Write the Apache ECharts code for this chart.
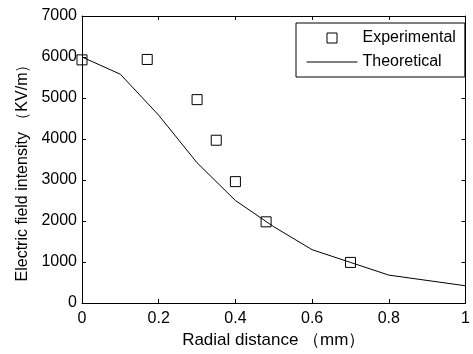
<!DOCTYPE html>
<html>
<head>
<meta charset="utf-8">
<script src="https://cdn.jsdelivr.net/npm/echarts@6/dist/echarts.min.js"></script>
<style>
html,body{margin:0;padding:0;background:#fff;}
#chart{width:473px;height:354px;}
</style>
</head>
<body>
<div id="chart"></div>
<script>
// Data
const expX = [0, 0.17, 0.30, 0.35, 0.40, 0.48, 0.70];
const expY = [5930, 5940, 4960, 3970, 2960, 1980, 990];
const theoX = [0, 0.1, 0.2, 0.3, 0.4, 0.5, 0.6, 0.7, 0.8, 1.0];
const theoY = [6000, 5580, 4580, 3420, 2500, 1860, 1300, 990, 680, 420];
const seriesNames = ['Experimental', 'Theoretical'];
const xTitle = 'Radial distance \uFF08mm\uFF09';
const yTitle = 'Electric field intensity \uFF08KV/m\uFF09';

const FONT = "'Liberation Sans', Arial, sans-serif";
const axisLine = {show: true, onZero: false, lineStyle: {color: '#000', width: 1}};
const tick = {show: true, inside: true, length: 4, lineStyle: {color: '#000', width: 1}};
const plainNum = v => String(v);

// legend icons: square centred in a wide box, and a plain line
const squareIcon = 'path://M0,0L0,0M510,100L510,100M205,0L305,0L305,100L205,100Z';
const lineIcon = 'path://M0,0L0,0M0,100L0,100M0,50L510,50';

const chart = echarts.init(document.getElementById('chart'), null, {renderer: 'canvas'});
chart.setOption({
  animation: false,
  backgroundColor: '#fff',
  textStyle: {fontFamily: FONT},
  grid: {left: 82, right: 1, top: 16, bottom: 46, containLabel: false},
  legend: {
    orient: 'vertical',
    left: 296, top: 23,
    padding: [7, 9, 7, 10],
    itemGap: 8,
    itemWidth: 51, itemHeight: 10,
    borderColor: '#000', borderWidth: 1,
    backgroundColor: '#fff',
    textStyle: {fontFamily: FONT, fontSize: 16, color: '#000', lineHeight: 16},
    data: [
      {name: seriesNames[0], icon: squareIcon, itemStyle: {color: 'rgba(0,0,0,0)', borderColor: '#000', borderWidth: 1}},
      {name: seriesNames[1], icon: lineIcon, itemStyle: {color: 'rgba(0,0,0,0)', borderColor: '#000', borderWidth: 1}}
    ]
  },
  xAxis: [{
    type: 'value', min: 0, max: 1, interval: 0.2, position: 'bottom',
    axisLine: axisLine, axisTick: tick, splitLine: {show: false},
    axisLabel: {color: '#000', fontSize: 16, fontFamily: FONT, margin: 8, formatter: plainNum},
    name: xTitle, nameLocation: 'middle', nameGap: 29,
    nameTextStyle: {color: '#000', fontSize: 17, fontFamily: FONT}
  }, {
    type: 'value', min: 0, max: 1, interval: 0.2, position: 'top',
    axisLine: axisLine, axisTick: tick, splitLine: {show: false},
    axisLabel: {show: false}
  }],
  yAxis: [{
    type: 'value', min: 0, max: 7000, interval: 1000, position: 'left',
    axisLine: axisLine, axisTick: tick, splitLine: {show: false},
    axisLabel: {color: '#000', fontSize: 16, fontFamily: FONT, margin: 5, formatter: plainNum},
    name: yTitle, nameLocation: 'middle', nameGap: 48, nameRotate: 90,
    nameTextStyle: {color: '#000', fontSize: 16, fontFamily: FONT, padding: [0, 19, 0, 0]}
  }, {
    type: 'value', min: 0, max: 7000, interval: 1000, position: 'right',
    axisLine: axisLine, axisTick: tick, splitLine: {show: false},
    axisLabel: {show: false}
  }],
  series: [{
    name: seriesNames[0],
    type: 'scatter',
    xAxisIndex: 0, yAxisIndex: 0,
    symbol: 'rect', symbolSize: 10,
    itemStyle: {color: 'rgba(0,0,0,0)', borderColor: '#000', borderWidth: 1, opacity: 1},
    data: expX.map((x, i) => [x, expY[i]]),
    z: 5
  }, {
    name: seriesNames[1],
    type: 'line',
    xAxisIndex: 0, yAxisIndex: 0,
    showSymbol: false, symbol: 'none',
    lineStyle: {color: '#000', width: 1},
    itemStyle: {color: '#000'},
    data: theoX.map((x, i) => [x, theoY[i]]),
    z: 4
  }]
});
</script>
</body>
</html>
